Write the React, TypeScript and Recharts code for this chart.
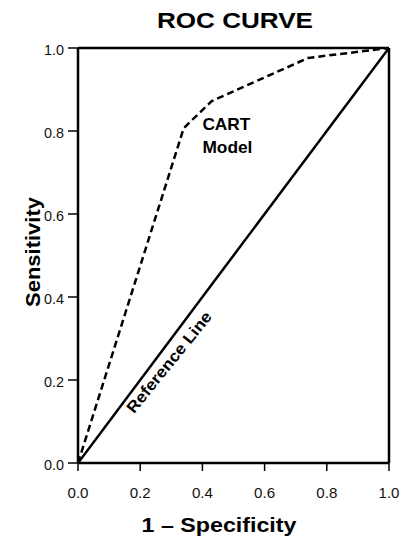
import React from 'react'
import { LineChart, Line, XAxis, YAxis, ReferenceLine, ReferenceDot, Label } from 'recharts'

// false positive rate (1 - specificity) and sensitivity for the CART model
const cartFpr = [0, 0.34, 0.43, 0.74, 1]
const cartTpr = [0, 0.807, 0.872, 0.976, 1]

// chance diagonal
const refFpr = [0, 1]
const refTpr = [0, 1]

const axisTicks = [0, 0.2, 0.4, 0.6, 0.8, 1]

const cartData = cartFpr.map((x, i) => ({ x, y: cartTpr[i] }))
const refData = refFpr.map((x, i) => ({ x, y: refTpr[i] }))

const FONT = '"Liberation Sans", Arial, Helvetica, sans-serif'

const YTick = (props: any) => {
  const { x, y, payload } = props
  return (
    <text x={x} y={y + 1} textAnchor="end" dominantBaseline="central" fontSize={15} fontFamily={FONT} fill="#111"
      textLength={20} lengthAdjust="spacingAndGlyphs">
      {Number(payload.value).toFixed(1)}
    </text>
  )
}

const XTick = (props: any) => {
  const { x, y, payload } = props
  return (
    <text x={x} y={y + 21} textAnchor="middle" dominantBaseline="central" fontSize={15} fontFamily={FONT} fill="#111"
      textLength={21} lengthAdjust="spacingAndGlyphs">
      {Number(payload.value).toFixed(1)}
    </text>
  )
}

export default function App() {
  return (
    <div style={{ position: 'absolute', left: 0, top: 0, width: 403, height: 539, background: '#fff' }}>
      <svg width={403} height={40} style={{ position: 'absolute', left: 0, top: 0 }}>
        <text x={235} y={20} textAnchor="middle" dominantBaseline="central" fontFamily={FONT} fontWeight="bold"
          fontSize={22} textLength={156} lengthAdjust="spacingAndGlyphs" fill="#000">
          ROC CURVE
        </text>
      </svg>
      <LineChart width={403} height={539} margin={{ top: 48, right: 14, bottom: 0, left: 0 }}
        style={{ position: 'absolute', left: 0, top: 0 }}>
        <XAxis type="number" dataKey="x" domain={[0, 1]} ticks={axisTicks} height={76}
          axisLine={{ stroke: '#000', strokeWidth: 2.5 }} tickLine={{ stroke: '#000', strokeWidth: 1.5 }}
          tickSize={8} tickMargin={0} tick={<XTick />} allowDataOverflow>
          <Label content={() => (
            <text x={219} y={524} textAnchor="middle" dominantBaseline="central" fontFamily={FONT} fontWeight="bold"
              fontSize={21} textLength={155} lengthAdjust="spacingAndGlyphs" fill="#000">
              1 – Specificity
            </text>
          )} />
        </XAxis>
        <YAxis type="number" dataKey="y" domain={[0, 1]} ticks={axisTicks} width={78}
          axisLine={{ stroke: '#000', strokeWidth: 2.5 }} tickLine={{ stroke: '#000', strokeWidth: 1.5 }}
          tickSize={10} tickMargin={4} tick={<YTick />} allowDataOverflow>
          <Label content={() => (
            <text x={32} y={252} transform="rotate(-90 32 252)" textAnchor="middle" dominantBaseline="central"
              fontFamily={FONT} fontWeight="bold" fontSize={21} textLength={110} lengthAdjust="spacingAndGlyphs" fill="#000">
              Sensitivity
            </text>
          )} />
        </YAxis>
        <ReferenceLine y={1} stroke="#000" strokeWidth={2.5} />
        <ReferenceLine x={1} stroke="#000" strokeWidth={2.5} />
        <Line data={refData} dataKey="y" type="linear" stroke="#000" strokeWidth={2.5} dot={false}
          isAnimationActive={false} />
        <Line data={cartData} dataKey="y" type="linear" stroke="#000" strokeWidth={2.5} strokeDasharray="7 4"
          dot={false} isAnimationActive={false} />
        <ReferenceDot x={0.293} y={0.243} r={1} fill="none" stroke="none"
          label={{
            content: (p: any) => {
              const vb = p.viewBox || {}
              const cx = vb.x + (vb.width || 0) / 2
              const cy = vb.y + (vb.height || 0) / 2
              return (
                <text x={cx} y={cy} transform={`rotate(-51 ${cx} ${cy})`} textAnchor="middle" dominantBaseline="central"
                  fontFamily={FONT} fontWeight="bold" fontSize={16} textLength={125} lengthAdjust="spacingAndGlyphs" fill="#000">
                  Reference Line
                </text>
              )
            },
          }} />
        <ReferenceDot x={0.4} y={0.815} r={1} fill="none" stroke="none"
          label={{
            content: (p: any) => {
              const vb = p.viewBox || {}
              const lx = vb.x + (vb.width || 0) / 2
              const ly = vb.y + (vb.height || 0) / 2
              return (
                <g fontFamily={FONT} fontWeight="bold" fontSize={17} fill="#000">
                  <text x={lx} y={ly} dominantBaseline="central" textLength={48} lengthAdjust="spacingAndGlyphs">CART</text>
                  <text x={lx} y={ly + 23} dominantBaseline="central" textLength={50} lengthAdjust="spacingAndGlyphs">Model</text>
                </g>
              )
            },
          }} />
      </LineChart>
    </div>
  )
}
